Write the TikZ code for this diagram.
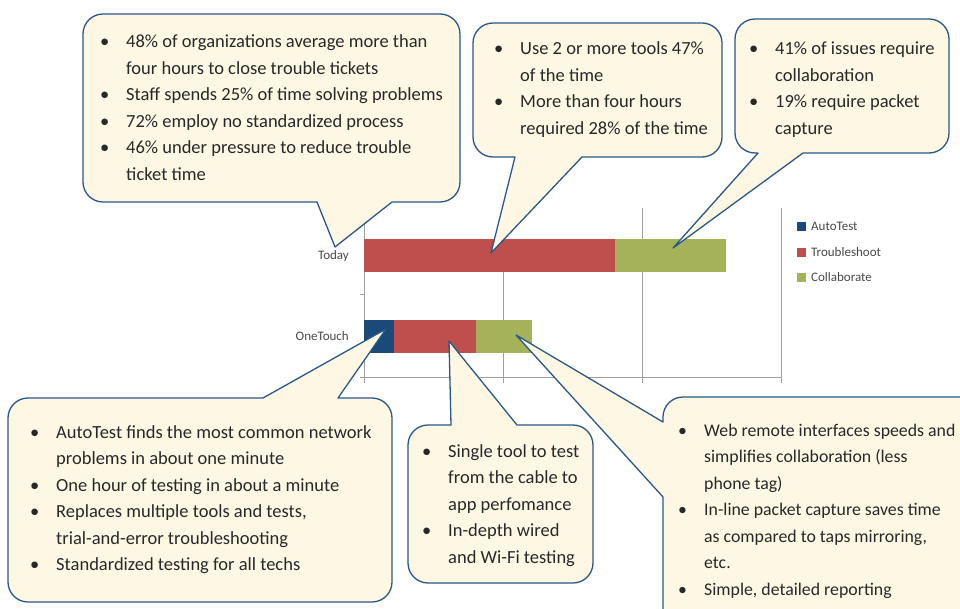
\documentclass[tikz,border=0pt]{standalone}
\usepackage{fontspec}
\setmainfont{Carlito}
\usetikzlibrary{positioning}
\definecolor{autoblue}{RGB}{27,74,122}
\definecolor{troublered}{RGB}{190,79,77}
\definecolor{collabgreen}{RGB}{165,178,90}
\definecolor{bubblefill}{RGB}{253,247,228}
\definecolor{bubbleline}{RGB}{40,88,135}
\definecolor{axisgray}{RGB}{160,160,160}
\definecolor{txtgray}{RGB}{40,40,40}
\newcommand{\bul}{\makebox[26pt][l]{\textbullet}}
\newcommand{\bulskip}{\hspace*{26pt}}

\begin{document}
\begin{tikzpicture}[x=1pt, y=-1pt,
    bubble/.style={draw=bubbleline, line width=1.3pt, fill=bubblefill, line join=round},
    gridline/.style={axisgray, line width=1pt},
    bullets/.style={anchor=base west, inner sep=0pt, text=txtgray, font=\fontsize{18.5}{26.5}\selectfont},
    lbl/.style={inner sep=0pt, text=txtgray!85, font=\fontsize{13}{15}\selectfont}]
    \useasboundingbox (0,0) rectangle (960,609);
    \clip (0,0) rectangle (960,609);

    % axes and grid
    \draw[gridline] (364,223) -- (364,383);
    \draw[gridline] (360,295) -- (364,295);
    \draw[gridline] (360,377) -- (782,377);
    \foreach \gx in {503,642,781} {
        \draw[gridline] (\gx,208) -- (\gx,383);
    }

    % bars
    \fill[troublered] (364,239) rectangle (615,272);
    \fill[collabgreen] (615,239) rectangle (726,272);
    \fill[autoblue] (364,320) rectangle (394,353);
    \fill[troublered] (394,320) rectangle (476,353);
    \fill[collabgreen] (476,320) rectangle (532,353);
    \node[lbl, anchor=east] (today) at (349,256) {Today};
    \node[lbl, anchor=east] (onetouch) at (349,336) {OneTouch};

    % legend
    \fill[autoblue] (797,222) rectangle (806,231);
    \fill[troublered] (797,248) rectangle (806,257);
    \fill[collabgreen] (797,273) rectangle (806,282);
    \node[lbl, anchor=west] (legAuto) at (811,226) {AutoTest};
    \node[lbl, anchor=west] (legTrouble) at (811,252) {Troubleshoot};
    \node[lbl, anchor=west] (legCollab) at (811,277) {Collaborate};

    % tail tips
    \coordinate (tipToday) at (335,247);
    \coordinate (tipTrouble) at (491,253);
    \coordinate (tipCollab) at (673,248);
    \coordinate (tipAuto) at (386,329);
    \coordinate (tipTool) at (449,341);
    \coordinate (tipWeb) at (516,335);

    % callouts
    \draw[bubble] (392,202) [rounded corners=20] -- (460,202) -- (460,14) -- (83,14) -- (83,202) [sharp corners] -- (317,202) -- (tipToday) -- cycle;
    \draw[bubble] (582,157) [rounded corners=20] -- (722,157) -- (722,23) -- (473,23) -- (473,157) [sharp corners] -- (515,157) -- (tipTrouble) -- cycle;
    \draw[bubble] (803,153) [rounded corners=20] -- (949,153) -- (949,19) -- (735,19) -- (735,153) [sharp corners] -- (758,153) -- (tipCollab) -- cycle;
    \draw[bubble] (263,398) [rounded corners=20] -- (8,398) -- (8,602) -- (392,602) -- (392,398) [sharp corners] -- (338,398) -- (tipAuto) -- cycle;
    \draw[bubble] (451,425) [rounded corners=20] -- (408,425) -- (408,583) -- (593,583) -- (593,425) [sharp corners] -- (517,425) -- (tipTool) -- cycle;
    \draw[bubble] (663,497) [rounded corners=20] -- (663,640) -- (1000,640) -- (1000,397) -- (663,397) [sharp corners] -- (663,422) -- (tipWeb) -- cycle;

    \node[bullets] (todayText) at (100,48) {\begin{tabular}[t]{@{}l@{}}
        \bul 48\% of organizations average more than\\
        \bulskip four hours to close trouble tickets\\
        \bul Staff spends 25\% of time solving problems\\
        \bul 72\% employ no standardized process\\
        \bul 46\% under pressure to reduce trouble\\
        \bulskip ticket time
    \end{tabular}};
    \node[bullets] (troubleText) at (494,55) {\begin{tabular}[t]{@{}l@{}}
        \bul Use 2 or more tools 47\%\\
        \bulskip of the time\\
        \bul More than four hours\\
        \bulskip required 28\% of the time
    \end{tabular}};
    \node[bullets] (collabText) at (749,55) {\begin{tabular}[t]{@{}l@{}}
        \bul 41\% of issues require\\
        \bulskip collaboration\\
        \bul 19\% require packet\\
        \bulskip capture
    \end{tabular}};
    \node[bullets] (autoText) at (30,438) {\begin{tabular}[t]{@{}l@{}}
        \bul AutoTest finds the most common network\\
        \bulskip problems in about one minute\\
        \bul One hour of testing in about a minute\\
        \bul Replaces multiple tools and tests,\\
        \bulskip trial-and-error troubleshooting\\
        \bul Standardized testing for all techs
    \end{tabular}};
    \node[bullets] (toolText) at (422,457) {\begin{tabular}[t]{@{}l@{}}
        \bul Single tool to test\\
        \bulskip from the cable to\\
        \bulskip app perfomance\\
        \bul In-depth wired\\
        \bulskip and Wi-Fi testing
    \end{tabular}};
    \node[bullets, font=\fontsize{17.8}{26.5}\selectfont] (webText) at (678,436) {\begin{tabular}[t]{@{}l@{}}
        \bul Web remote interfaces speeds and\\
        \bulskip simplifies collaboration (less\\
        \bulskip phone tag)\\
        \bul In-line packet capture saves time\\
        \bulskip as compared to taps mirroring,\\
        \bulskip etc.\\
        \bul Simple, detailed reporting
    \end{tabular}};
\end{tikzpicture}
\end{document}
